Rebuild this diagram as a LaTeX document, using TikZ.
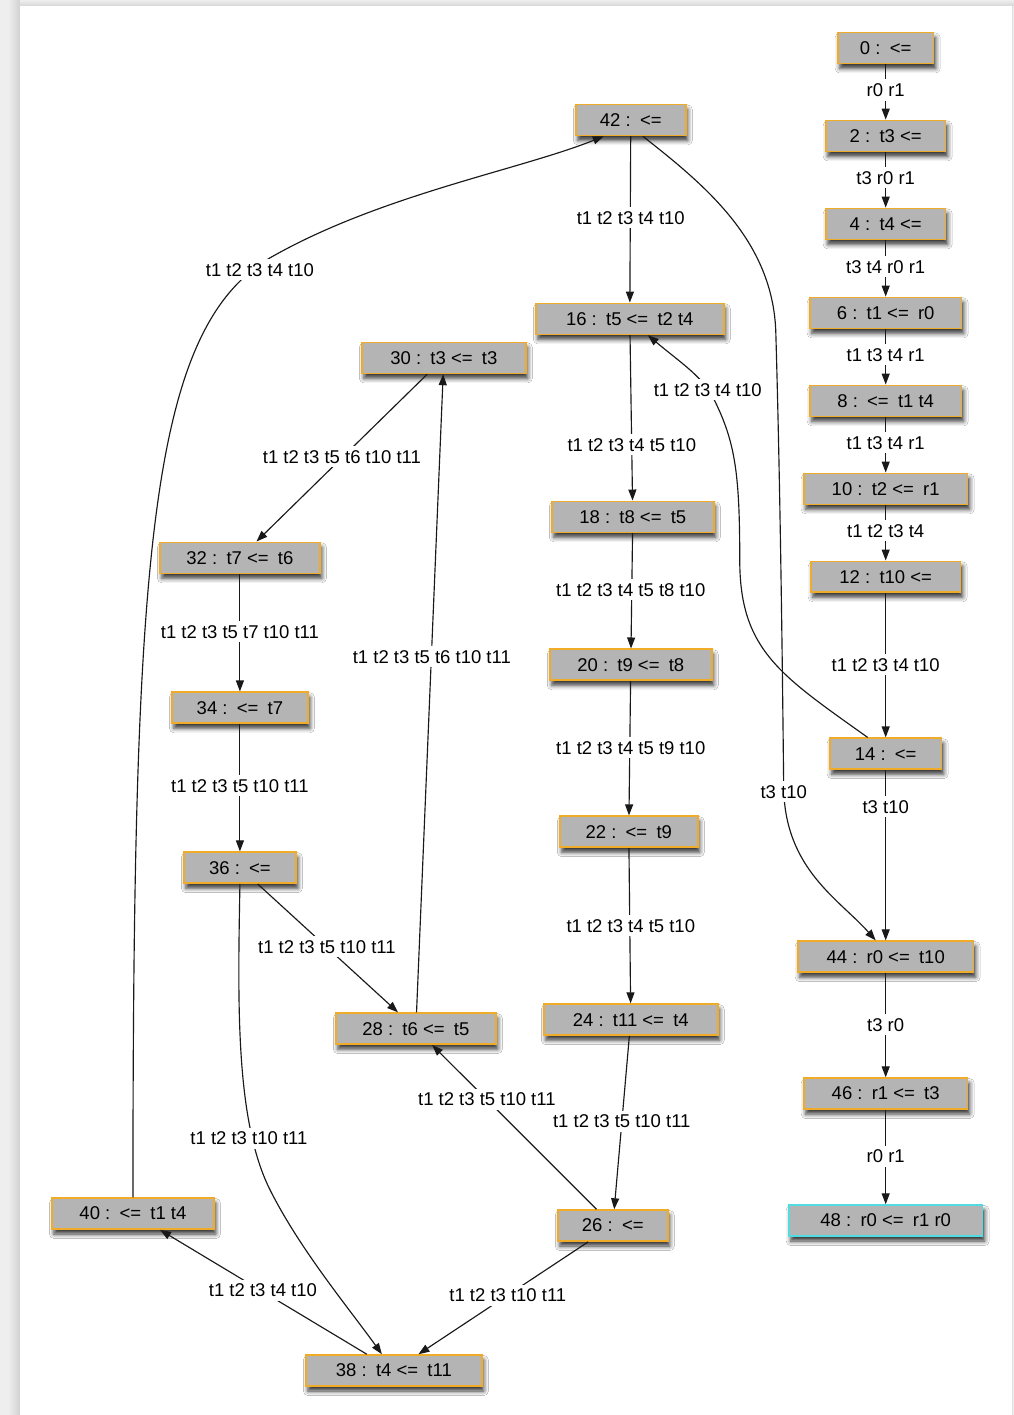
\documentclass[tikz,border=0pt]{standalone}
\usepackage{fontspec}
\setmainfont{Liberation Sans}
\usetikzlibrary{arrows.meta,shadows.blur}
\definecolor{boxgray}{RGB}{180,180,180}
\definecolor{boxorange}{RGB}{240,172,40}
\definecolor{boxcyan}{RGB}{80,220,225}
\definecolor{pagegray}{RGB}{238,238,238}
\newcommand\dsp{\hspace{0.5em}}
\tikzset{
  box/.style={draw=boxorange, fill=boxgray, line width=1.6pt, minimum height=31pt, inner sep=0pt,
    font=\fontsize{18.5}{22}\selectfont, text=black,
    blur shadow={shadow xshift=2pt, shadow yshift=-5pt, shadow blur radius=4.5pt, shadow opacity=80}},
  lab/.style={fill=white, inner xsep=1pt, inner ysep=4pt, font=\fontsize{18.5}{22}\selectfont, text=black},
  edge/.style={line width=1.15pt, draw=black!90, -{Triangle[length=11pt,width=8pt]}}
}
\begin{document}
\begin{tikzpicture}[x=1pt,y=-1pt]
% page background
\fill[pagegray] (0,0) rectangle (1014,1415);
\shade[left color=pagegray, right color=black!18] (8,0) rectangle (20,1415);
\shade[top color=pagegray, bottom color=black!16] (20,0) rectangle (1014,6);
\fill[white] (20,6) rectangle (1012,1415);
\draw[black!12, line width=1pt] (1012.5,6) -- (1012.5,1415);
\useasboundingbox (0,0) rectangle (1014,1415);

% nodes, right column
\node[box, minimum width=96pt]  (n0)  at (886,48)   {0 :\dsp<=};
\node[box, minimum width=120pt] (n2)  at (886,136)  {2 :\dsp t3 <=};
\node[box, minimum width=120pt] (n4)  at (886,224)  {4 :\dsp t4 <=};
\node[box, minimum width=152pt] (n6)  at (886,313)  {6 :\dsp t1 <=\dsp r0};
\node[box, minimum width=152pt] (n8)  at (886,401)  {8 :\dsp <=\dsp t1 t4};
\node[box, minimum width=164pt] (n10) at (886,489)  {10 :\dsp t2 <=\dsp r1};
\node[box, minimum width=150pt] (n12) at (886,577)  {12 :\dsp t10 <=};
\node[box, minimum width=112pt] (n14) at (886,754)  {14 :\dsp <=};
\node[box, minimum width=176pt] (n44) at (886,957)  {44 :\dsp r0 <=\dsp t10};
\node[box, minimum width=164pt] (n46) at (886,1094) {46 :\dsp r1 <=\dsp t3};
\node[box, minimum width=194pt, draw=boxcyan] (n48) at (886,1221) {48 :\dsp r0 <=\dsp r1 r0};
% middle column
\node[box, minimum width=110pt] (n42) at (631,120)  {42 :\dsp <=};
\node[box, minimum width=188pt] (n16) at (630,319)  {16 :\dsp t5 <=\dsp t2 t4};
\node[box, minimum width=162pt] (n18) at (633,517)  {18 :\dsp t8 <=\dsp t5};
\node[box, minimum width=162pt] (n20) at (631,665)  {20 :\dsp t9 <=\dsp t8};
\node[box, minimum width=138pt] (n22) at (629,832)  {22 :\dsp <=\dsp t9};
\node[box, minimum width=174pt] (n24) at (631,1020) {24 :\dsp t11 <=\dsp t4};
\node[box, minimum width=110pt] (n26) at (613,1226) {26 :\dsp <=};
% left columns
\node[box, minimum width=164pt] (n30) at (444,358)  {30 :\dsp t3 <=\dsp t3};
\node[box, minimum width=160pt] (n32) at (240,558)  {32 :\dsp t7 <=\dsp t6};
\node[box, minimum width=136pt] (n34) at (240,708)  {34 :\dsp <=\dsp t7};
\node[box, minimum width=112pt] (n36) at (240,868)  {36 :\dsp <=};
\node[box, minimum width=160pt] (n28) at (416,1029) {28 :\dsp t6 <=\dsp t5};
\node[box, minimum width=162pt] (n40) at (133,1214) {40 :\dsp <=\dsp t1 t4};
\node[box, minimum width=176pt] (n38) at (394,1371) {38 :\dsp t4 <=\dsp t11};

% straight edges
\draw[edge] (n0) -- (n2);
\draw[edge] (n2) -- (n4);
\draw[edge] (n4) -- (n6);
\draw[edge] (n6) -- (n8);
\draw[edge] (n8) -- (n10);
\draw[edge] (n10) -- (n12);
\draw[edge] (n12) -- (n14);
\draw[edge] (n14) -- (n44);
\draw[edge] (n44) -- (n46);
\draw[edge] (n46) -- (n48);
\draw[edge] (n42) -- (n16);
\draw[edge] (n16) -- (n18);
\draw[edge] (n18) -- (n20);
\draw[edge] (n20) -- (n22);
\draw[edge] (n22) -- (n24);
\draw[edge] (n24) -- (n26);
\draw[edge] (n26) -- (n28);
\draw[edge] (n26) -- (n38);
\draw[edge] (n36) -- (n28);
\draw[edge] (n28) -- (n30);
\draw[edge] (n30) -- (n32);
\draw[edge] (n32) -- (n34);
\draw[edge] (n34) -- (n36);
\draw[edge] (n38) -- (n40);
% curved edges
\draw[edge] (n40.north) .. controls (133,550) and (150,330) .. (270,258)
  .. controls (380,195) and (520,170) .. ([xshift=-27pt]n42.south);
\draw[edge] ([xshift=12pt]n42.south) .. controls (705,185) and (772,240) .. (776,330)
  .. controls (781,500) and (783,700) .. (784,790)
  .. controls (786,870) and (840,900) .. ([xshift=-10pt]n44.north);
\draw[edge] ([xshift=-18pt]n14.north) .. controls (780,675) and (740,650) .. (740,560)
  .. controls (740,470) and (735,440) .. (712,395)
  .. controls (700,375) and (680,362) .. ([xshift=18pt]n16.south);
\draw[edge] (n36.south) .. controls (238,1000) and (235,1120) .. (270,1190)
  .. controls (300,1250) and (350,1310) .. ([xshift=-12pt]n38.north);

% edge labels
\node[lab] (l0)  at (886,90)   {r0 r1};
\node[lab] (l2)  at (886,178)  {t3 r0 r1};
\node[lab] (l4)  at (886,267)  {t3 t4 r0 r1};
\node[lab] (l6)  at (886,355)  {t1 t3 t4 r1};
\node[lab] (l8)  at (886,443)  {t1 t3 t4 r1};
\node[lab] (l10) at (886,531)  {t1 t2 t3 t4};
\node[lab] (l12) at (886,665)  {t1 t2 t3 t4 t10};
\node[lab] (l14) at (886,807)  {t3 t10};
\node[lab] (l42b) at (784,792) {t3 t10};
\node[lab] (l44) at (886,1025) {t3 r0};
\node[lab] (l46) at (886,1157) {r0 r1};
\node[lab] (l42) at (631,218)  {t1 t2 t3 t4 t10};
\node[lab] (l14b) at (708,390) {t1 t2 t3 t4 t10};
\node[lab] (l40) at (260,270)  {t1 t2 t3 t4 t10};
\node[lab] (l16) at (632,445)  {t1 t2 t3 t4 t5 t10};
\node[lab] (l18) at (631,590)  {t1 t2 t3 t4 t5 t8 t10};
\node[lab] (l20) at (631,748)  {t1 t2 t3 t4 t5 t9 t10};
\node[lab] (l22) at (631,926)  {t1 t2 t3 t4 t5 t10};
\node[lab] (l24) at (622,1122) {t1 t2 t3 t5 t10 t11};
\node[lab] (l26a) at (487,1100) {t1 t2 t3 t5 t10 t11};
\node[lab] (l26b) at (508,1296) {t1 t2 t3 t10 t11};
\node[lab] (l28) at (432,657)  {t1 t2 t3 t5 t6 t10 t11};
\node[lab] (l30) at (342,457)  {t1 t2 t3 t5 t6 t10 t11};
\node[lab] (l32) at (240,632)  {t1 t2 t3 t5 t7 t10 t11};
\node[lab] (l34) at (240,786)  {t1 t2 t3 t5 t10 t11};
\node[lab] (l36a) at (327,947) {t1 t2 t3 t5 t10 t11};
\node[lab] (l36b) at (249,1139) {t1 t2 t3 t10 t11};
\node[lab] (l38) at (263,1291) {t1 t2 t3 t4 t10};
\end{tikzpicture}
\end{document}
